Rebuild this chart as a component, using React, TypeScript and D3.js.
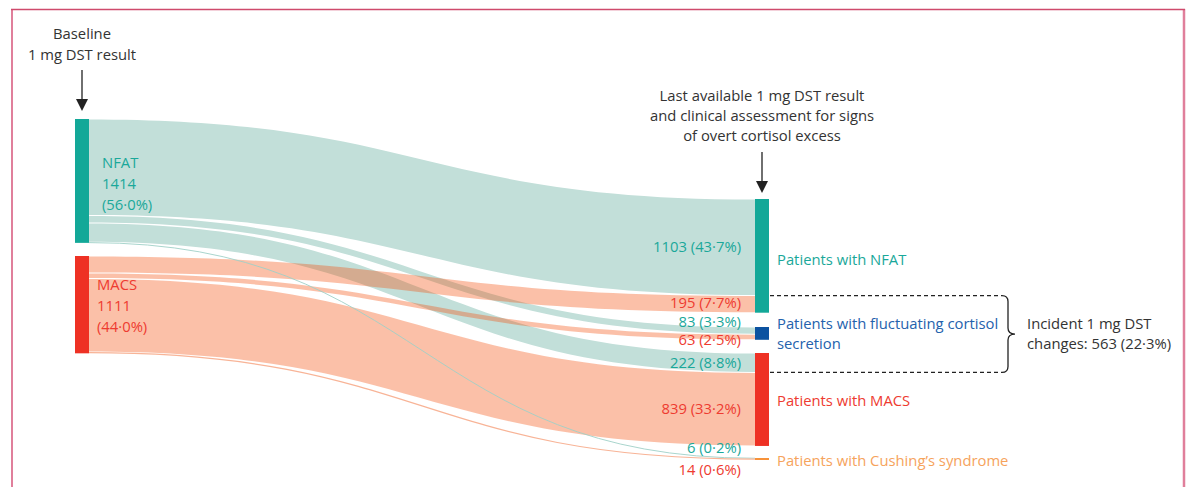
import React from "react";
import * as d3 from "d3";

const sourceNodes = ["NFAT", "MACS"];
const sourceTotals = [1414, 1111];
const sourcePct = ["56·0%", "44·0%"];
const targetNodes = ["NFAT", "FLUCT", "MACS", "CUSHING"];
const targetLabels = [
  ["Patients with NFAT"],
  ["Patients with fluctuating cortisol", "secretion"],
  ["Patients with MACS"],
  ["Patients with Cushing\u2019s syndrome"],
];
// flows: [source, target, value, pct label]
const flowSource = ["NFAT", "MACS", "NFAT", "MACS", "NFAT", "MACS", "NFAT", "MACS"];
const flowTarget = ["NFAT", "NFAT", "FLUCT", "FLUCT", "MACS", "MACS", "CUSHING", "CUSHING"];
const flowValues = [1103, 195, 83, 63, 222, 839, 6, 14];
const flowPct = ["43·7%", "7·7%", "3·3%", "2·5%", "8·8%", "33·2%", "0·2%", "0·6%"];
const incidentTotal = 563;
const incidentPct = "22·3%";

const COL = {
  teal: "#13a898",
  red: "#ee3124",
  blue: "#0b52a0",
  orange: "#f7923a",
  tealText: "#1aa89a",
  redText: "#ee3b30",
  blueText: "#2462ad",
  orangeText: "#f6a35c",
  tealLink: "#c2dfd9",
  salmonLink: "#f4500d",
  text: "#333333",
};

const W = 1187;
const H = 487;
const FONT = "'Open Sans', 'Noto Sans', sans-serif";
const FS = 14.8;

export default function App() {
  const k = d3.scaleLinear().domain([0, 1000]).range([0, 87.6]);
  const srcX0 = 75, srcX1 = 89, tgtX0 = 755, tgtX1 = 769;
  const srcTop = [119, 256];
  const tgtTop = [199, 327, 353, 458];

  const srcY: Record<string, number> = {};
  const tgtY: Record<string, number> = {};
  sourceNodes.forEach((n, i) => (srcY[n] = srcTop[i]));
  targetNodes.forEach((n, i) => (tgtY[n] = tgtTop[i]));

  const targetTotals = targetNodes.map((t) =>
    d3.sum(flowValues.filter((_, i) => flowTarget[i] === t))
  );

  const srcCursor: Record<string, number> = { ...srcY };
  const tgtCursor: Record<string, number> = { ...tgtY };
  const links = flowValues.map((v, i) => {
    const h = k(v);
    const s0 = srcCursor[flowSource[i]];
    srcCursor[flowSource[i]] += h;
    const t0 = tgtCursor[flowTarget[i]];
    tgtCursor[flowTarget[i]] += h;
    return { i, v, h, s0, s1: s0 + h, t0, t1: t0 + h, src: flowSource[i], tgt: flowTarget[i] };
  });

  const band = (l: any) => {
    const inset = l.h > 3 ? 0.5 : 0;
    const a0 = l.s0 + inset, a1 = l.s1 - inset, b0 = l.t0 + inset, b1 = l.t1 - inset;
    const xm = (srcX1 + tgtX0) / 2;
    const p = d3.path();
    p.moveTo(srcX1, a0);
    p.bezierCurveTo(xm, a0, xm, b0, tgtX0, b0);
    p.lineTo(tgtX0, b1);
    p.bezierCurveTo(xm, b1, xm, a1, srcX1, a1);
    p.closePath();
    return p.toString();
  };
  const thinLine = (l: any) => {
    const y0 = (l.s0 + l.s1) / 2, y1 = (l.t0 + l.t1) / 2;
    const xm = (srcX1 + tgtX0) / 2;
    const p = d3.path();
    p.moveTo(srcX1, y0);
    p.bezierCurveTo(xm, y0, xm, y1, tgtX0, y1);
    return p.toString();
  };

  const labelDy = [0, -1.5, -9.2, 3, 0, 0, -10, 11];
  const srcColor = (s: string) => (s === "NFAT" ? COL.tealText : COL.redText);
  const tgtNodeColor = [COL.teal, COL.blue, COL.red, COL.orange];
  const tgtTextColor = [COL.tealText, COL.blueText, COL.redText, COL.orangeText];

  const bigTeal = links.filter((l) => l.src === "NFAT" && l.h > 3);
  const bigSalmon = links.filter((l) => l.src === "MACS" && l.h > 3);
  const thin = links.filter((l) => l.h <= 3);

  const dashTop = links[1].t0;
  const dashBot = links[4].t1;
  const dashX0 = 770, dashX1 = 1002;
  const bx = 1002, bw = 13;
  const bm = (dashTop + dashBot) / 2;
  const brace = `M${bx},${dashTop} q6,0 6,6 L${bx + 6},${bm - 6} q0,6 ${bw - 6},6 q${-(bw - 6)},0 ${-(bw - 6)},6 L${bx + 6},${dashBot - 6} q0,6 -6,6`;

  const arrow = (x: number, y0: number, y1: number) => (
    <g>
      <line x1={x} x2={x} y1={y0} y2={y1 - 10} stroke="#222" strokeWidth={1.3} />
      <path d={`M${x - 6},${y1 - 12} L${x + 6},${y1 - 12} L${x},${y1} Z`} fill="#222" />
    </g>
  );

  return (
    <svg width={W} height={H} style={{ position: "absolute", left: 0, top: 0 }} fontFamily={FONT}>
      <rect x={0} y={0} width={W} height={H} fill="#fff" />
      <line x1={12} x2={12} y1={9} y2={H} stroke="#e07f9b" strokeWidth={2} />
      <line x1={1184} x2={1184} y1={9} y2={H} stroke="#e07f9b" strokeWidth={2.5} />
      <line x1={11} x2={1185} y1={9.5} y2={9.5} stroke="#cf4a6c" strokeWidth={1.5} />

      {bigTeal.map((l) => (
        <path key={"t" + l.i} d={band(l)} fill={COL.tealLink} />
      ))}
      {bigSalmon.map((l) => (
        <path key={"s" + l.i} d={band(l)} fill={COL.salmonLink} fillOpacity={0.36} />
      ))}
      {thin.map((l) => (
        <path
          key={"n" + l.i}
          d={thinLine(l)}
          fill="none"
          stroke={l.src === "NFAT" ? "#9fd0c7" : "#f8b497"}
          strokeWidth={Math.max(l.h, 0.9)}
        />
      ))}

      {sourceNodes.map((n, i) => (
        <rect key={n} x={srcX0} y={srcTop[i]} width={srcX1 - srcX0} height={k(sourceTotals[i])}
          fill={i === 0 ? COL.teal : COL.red} />
      ))}
      {targetNodes.map((n, i) => (
        <rect key={n} x={tgtX0} y={tgtTop[i]} width={tgtX1 - tgtX0}
          height={Math.max(k(targetTotals[i]), 2)} fill={tgtNodeColor[i]} />
      ))}

      {sourceNodes.map((n, i) => {
        const x = i === 0 ? 102 : 97;
        const y0 = i === 0 ? 163 : 285;
        const lines = [n, String(sourceTotals[i]), `(${sourcePct[i]})`];
        return (
          <text key={n} fontSize={FS} fill={i === 0 ? COL.tealText : COL.redText}>
            {lines.map((t, j) => (
              <tspan key={j} x={x} y={y0 + j * 20.8} dy="0.35em">{t}</tspan>
            ))}
          </text>
        );
      })}

      {links.map((l) => (
        <text key={"lab" + l.i} x={741} y={(l.t0 + l.t1) / 2 + labelDy[l.i]} dy="0.35em"
          textAnchor="end" fontSize={FS} fill={srcColor(l.src)}>
          {`${l.v} (${flowPct[l.i]})`}
        </text>
      ))}

      {targetNodes.map((n, i) => {
        const ys = [260, 324, 401, 461];
        return (
          <text key={"tl" + n} fontSize={FS} fill={tgtTextColor[i]}>
            {targetLabels[i].map((t, j) => (
              <tspan key={j} x={777} y={ys[i] + j * 20} dy="0.35em">{t}</tspan>
            ))}
          </text>
        );
      })}

      <text fontSize={FS} fill={COL.text} textAnchor="middle">
        <tspan x={82} y={34} dy="0.35em">Baseline</tspan>
        <tspan x={82} y={55} dy="0.35em">1 mg DST result</tspan>
      </text>
      {arrow(82, 70, 111)}
      <text fontSize={FS} fill={COL.text} textAnchor="middle">
        <tspan x={762} y={96} dy="0.35em">Last available 1 mg DST result</tspan>
        <tspan x={762} y={116} dy="0.35em">and clinical assessment for signs</tspan>
        <tspan x={762} y={136} dy="0.35em">of overt cortisol excess</tspan>
      </text>
      {arrow(762, 152, 193)}

      <line x1={dashX0} x2={dashX1} y1={dashTop} y2={dashTop} stroke="#222" strokeWidth={1.2} strokeDasharray="4,3" />
      <line x1={dashX0} x2={dashX1} y1={dashBot} y2={dashBot} stroke="#222" strokeWidth={1.2} strokeDasharray="4,3" />
      <path d={brace} fill="none" stroke="#222" strokeWidth={1.3} />
      <text fontSize={FS} fill={COL.text}>
        <tspan x={1027} y={324} dy="0.35em">Incident 1 mg DST</tspan>
        <tspan x={1027} y={344} dy="0.35em">{`changes: ${incidentTotal} (${incidentPct})`}</tspan>
      </text>
    </svg>
  );
}
